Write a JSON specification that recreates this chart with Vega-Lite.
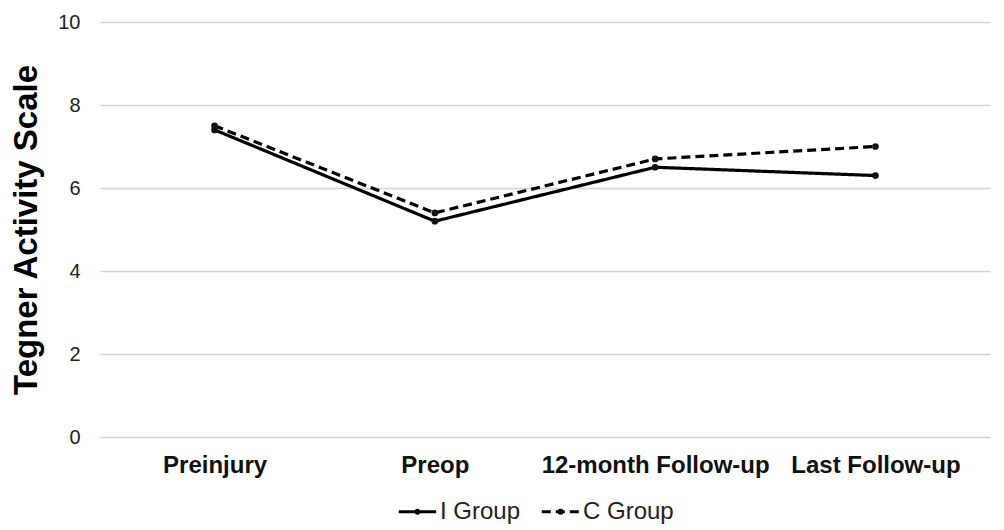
{
  "$schema": "https://vega.github.io/schema/vega-lite/v6.json",
  "autosize": "none",
  "width": 890,
  "height": 415,
  "padding": {"left": 100, "top": 22, "right": 14, "bottom": 93},
  "background": "white",
  "config": {
    "font": "Liberation Sans",
    "view": {"stroke": null}
  },
  "data": {
    "values": [
      {"time": "Preinjury", "group": "I Group", "score": 7.4},
      {"time": "Preop", "group": "I Group", "score": 5.2},
      {"time": "12-month Follow-up", "group": "I Group", "score": 6.5},
      {"time": "Last Follow-up", "group": "I Group", "score": 6.3},
      {"time": "Preinjury", "group": "C Group", "score": 7.5},
      {"time": "Preop", "group": "C Group", "score": 5.4},
      {"time": "12-month Follow-up", "group": "C Group", "score": 6.7},
      {"time": "Last Follow-up", "group": "C Group", "score": 7.0}
    ]
  },
  "encoding": {
    "x": {
      "field": "time",
      "type": "nominal",
      "sort": ["Preinjury", "Preop", "12-month Follow-up", "Last Follow-up"],
      "scale": {"type": "point", "padding": 0.52},
      "axis": {
        "title": null,
        "labelAngle": 0,
        "labelFontSize": 24,
        "labelFontWeight": "bold",
        "labelColor": "#111",
        "labelPadding": 16,
        "labelLimit": 400,
        "labelOverlap": false,
        "ticks": false,
        "domain": false
      }
    },
    "y": {
      "field": "score",
      "type": "quantitative",
      "scale": {"domain": [0, 10]},
      "axis": {
        "values": [0, 2, 4, 6, 8, 10],
        "title": "Tegner Activity Scale",
        "titleFontSize": 33,
        "titleFontWeight": "bold",
        "titleColor": "#000",
        "titlePadding": 14,
        "labelFontSize": 20,
        "labelColor": "#222",
        "labelPadding": 20,
        "ticks": false,
        "domain": false,
        "gridColor": "#d4d4d4",
        "gridWidth": 1.5
      }
    }
  },
  "layer": [
    {
      "mark": {"type": "line", "strokeWidth": 3.2, "color": "#000"},
      "encoding": {
        "strokeDash": {
          "field": "group",
          "type": "nominal",
          "scale": {"domain": ["I Group", "C Group"], "range": [[1, 0], [9, 5]]},
          "legend": {
            "title": null,
            "orient": "none",
            "legendX": 297,
            "legendY": 469,
            "direction": "horizontal",
            "labelFontSize": 24,
            "labelColor": "#222",
            "symbolType": "M-1,0L1,0M-0.08,0A0.08,0.08 0 1 1 0.08,0A0.08,0.08 0 1 1 -0.08,0",
            "symbolStrokeWidth": 3,
            "symbolSize": 1400,
            "symbolStrokeColor": "#000",
            "columnPadding": 14,
            "labelOffset": 2
          }
        }
      }
    },
    {
      "mark": {"type": "point", "filled": true, "size": 45, "opacity": 1, "color": "#111"}
    }
  ]
}
